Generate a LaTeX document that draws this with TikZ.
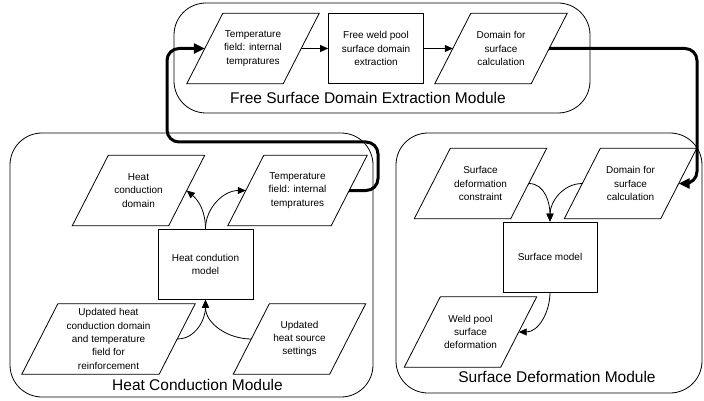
\documentclass[tikz,border=0pt]{standalone}
\usepackage{fontspec}
\setmainfont{Liberation Sans}
\usetikzlibrary{arrows.meta}

\tikzset{
    module/.style={draw, line width=0.8pt, rounded corners=32pt},
    % slanted data box, drawn around an invisible rectangle
    io/.style={rectangle, minimum width=96pt, minimum height=70pt,
        inner sep=1pt, align=center, font=\fontsize{10}{13.4}\selectfont,
        append after command={\pgfextra{\draw[line width=0.8pt]
            ([xshift=18pt]\tikzlastnode.north west) -- ([xshift=18pt]\tikzlastnode.north east)
            -- ([xshift=-18pt]\tikzlastnode.south east) -- ([xshift=-18pt]\tikzlastnode.south west)
            -- cycle;}}},
    proc/.style={draw, rectangle, minimum width=95pt, minimum height=70pt,
        align=center, font=\fontsize{10}{13.4}\selectfont, line width=0.8pt},
    modlabel/.style={font=\fontsize{15.5}{18}\selectfont},
    flow/.style={-{Triangle[length=8pt,width=7pt]}, line width=0.8pt},
    feed/.style={-{Triangle[length=11pt,width=10pt]}, line width=3pt, rounded corners=12pt},
}

\begin{document}
\begin{tikzpicture}[x=1pt, y=-1pt]
    \useasboundingbox (0,0) rectangle (704,401);

    % module frames
    \node[module, minimum width=416pt, minimum height=110pt] (fsmod) at (382,58) {};
    \node[module, minimum width=363pt, minimum height=264pt] (hcmod) at (191.5,265) {};
    \node[module, minimum width=306pt, minimum height=260pt] (sdmod) at (549,263) {};

    \node[modlabel] (fslabel) at (368,98) {Free Surface Domain Extraction Module};
    \node[modlabel] (hclabel) at (197.5,385) {Heat Conduction Module};
    \node[modlabel] (sdlabel) at (557,377) {Surface Deformation Module};

    % free surface domain extraction
    \node[io] (temp1) at (253,48.5) {Temperature\\field: internal\\tempratures};
    \node[proc] (extract) at (376,48.5) {Free weld pool\\surface domain\\extraction};
    \node[io] (dom1) at (501,48.5) {Domain for\\surface\\calculation};

    % heat conduction
    \node[io] (hdom) at (138.5,190.5) {Heat\\conduction\\domain};
    \node[io, minimum width=103pt] (temp2) at (297.5,190.5) {Temperature\\field: internal\\tempratures};
    \node[proc] (hmodel) at (205.5,264.5) {Heat condution\\model};
    \node[io, minimum width=137pt] (upd1) at (108.5,339) {Updated heat\\conduction domain\\and temperature\\field for\\reinforcement};
    \node[io] (upd2) at (299.5,339) {Updated\\heat source\\settings};

    % surface deformation
    \node[io] (cons) at (480.5,183.5) {Surface\\deformation\\constraint};
    \node[io] (dom2) at (630.5,183.5) {Domain for\\surface\\calculation};
    \node[proc, minimum width=94pt] (smodel) at (550,257) {Surface model};
    \node[io] (wpd) at (470.5,332) {Weld pool\\surface\\deformation};

    \draw[flow] (temp1.east) -- (extract.west);
    \draw[flow] (extract.east) -- (dom1.west);

    \draw[flow] (hmodel.north) to[out=90,in=-40] (hdom.east);
    \draw[flow] (hmodel.north) to[out=90,in=180] (temp2.west);
    \draw[flow] (upd1.east) to[out=0,in=-90] (hmodel.south);
    \draw[flow] (upd2.west) to[out=180,in=-90] (hmodel.south);

    \draw[flow] (cons.east) to[out=0,in=90] (smodel.north);
    \draw[flow] (dom2.west) to[out=180,in=90] (smodel.north);
    \draw[flow] (smodel.south) to[out=-90,in=0] (wpd.east);

    % links between modules
    \coordinate (rbend) at (697,120);
    \coordinate (hbend) at (378,142);
    \coordinate (lbend) at (167,142);
    \draw[feed] (dom1.east) -| (rbend) |- (dom2.east);
    \draw[feed] (temp2.east) -| (hbend) -- (lbend) |- (temp1.west);
\end{tikzpicture}
\end{document}
